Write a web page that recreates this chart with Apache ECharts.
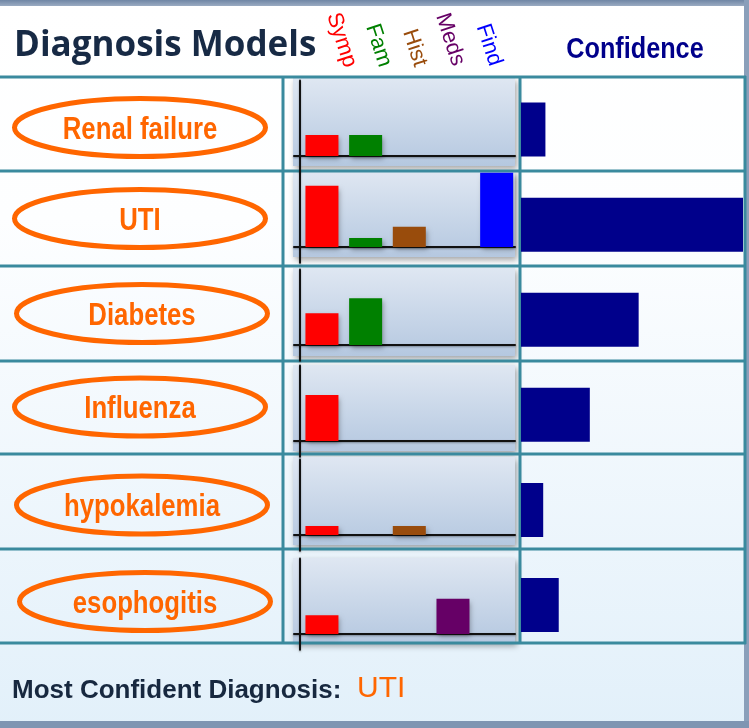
<!DOCTYPE html>
<html><head><meta charset="utf-8">
<script src="https://cdn.jsdelivr.net/npm/echarts@6/dist/echarts.min.js"></script>
<style>html,body{margin:0;padding:0;background:#fff}#c{width:749px;height:728px}</style>
</head><body><div id="c"></div>
<script>
// ---- data ----
const diagnoses = ['Renal failure', 'UTI', 'Diabetes', 'Influenza', 'hypokalemia', 'esophogitis'];
const sources = ['Symp', 'Fam', 'Hist', 'Meds', 'Find'];
const symp = [0.29, 0.85, 0.44, 0.64, 0.125, 0.26];
const fam  = [0.29, 0.125, 0.65, 0, 0, 0];
const hist = [0, 0.28, 0, 0, 0.125, 0];
const meds = [0, 0, 0, 0, 0, 0.49];
const find = [0, 1.03, 0, 0, 0, 0];
const confidence = [11, 100, 53, 31, 10, 17];

// ---- layout / style ----
const sourceColors = ['#ff0000', '#008000', '#994c0c', '#660066', '#0000ff'];
const baseY = [156, 247, 345, 441, 535, 634];
const panelTop = [78, 171, 268, 365, 457, 558];
const panelBot = [166, 257, 356, 451, 545, 643];
const ellCx = [140, 140, 142, 140, 142, 145];
const ellCy = [127.5, 218.5, 313.5, 407, 505, 601.5];
const legendPos = [[341.5, 40], [378.5, 45.5], [414.5, 48], [450, 39.5], [489, 45]];
const rowLines = [77, 171, 266, 361, 454, 549, 643];
const UNIT = 72;
const LINE = '#3a8a9e';

const grids = [], xAxes = [], yAxes = [], series = [];
const axisStyle = {color: '#111', width: 2, shadowColor: 'rgba(0,0,0,0.35)', shadowBlur: 2, shadowOffsetY: 1};
for (let r = 0; r < 6; r++) {
  grids.push({left: 294, width: 221, top: baseY[r] - 1.05 * UNIT, height: 1.27 * UNIT});
  xAxes.push({type: 'value', gridIndex: r, min: -0.14, max: 4.92,
    axisLine: {show: true, onZero: true, lineStyle: axisStyle},
    axisTick: {show: false}, axisLabel: {show: false}, splitLine: {show: false}});
  yAxes.push({type: 'value', gridIndex: r, min: -0.22, max: 1.05,
    axisLine: {show: true, onZero: true, lineStyle: axisStyle},
    axisTick: {show: false}, axisLabel: {show: false}, splitLine: {show: false}});
  const vals = [symp[r], fam[r], hist[r], meds[r], find[r]];
  const data = [];
  vals.forEach((v, i) => { if (v > 0) data.push({value: [i + 0.5, v], name: sources[i], itemStyle: {color: sourceColors[i]}}); });
  series.push({type: 'bar', xAxisIndex: r, yAxisIndex: r, barWidth: 33, data: data, silent: true,
    itemStyle: {shadowColor: 'rgba(0,0,0,0.3)', shadowBlur: 5, shadowOffsetX: 2, shadowOffsetY: 3}});
}
grids.push({left: 521, width: 222, top: 82, height: 570.6});
xAxes.push({type: 'value', gridIndex: 6, min: 0, max: 100, show: false});
yAxes.push({type: 'category', gridIndex: 6, data: diagnoses, inverse: true, show: false});
series.push({type: 'bar', xAxisIndex: 6, yAxisIndex: 6, data: confidence, barWidth: 54, silent: true,
  itemStyle: {color: '#00008b'}});

const g = [];
// background card
g.push({type: 'rect', z: -20, shape: {x: 0, y: 0, width: 749, height: 728},
  style: {fill: new echarts.graphic.LinearGradient(0, 0, 0, 1, [
    {offset: 0, color: '#ffffff'}, {offset: 0.3, color: '#fdfeff'}, {offset: 1, color: '#e2f0fa'}])}});
// frame bands
g.push({type: 'rect', z: -19, shape: {x: 0, y: 0, width: 749, height: 6},
  style: {fill: new echarts.graphic.LinearGradient(0, 0, 0, 1, [{offset: 0, color: '#6f86a5'}, {offset: 1, color: '#9aabc2'}])}});
g.push({type: 'rect', z: -19, shape: {x: 744, y: 0, width: 5, height: 728}, style: {fill: '#8a9fba'}});
g.push({type: 'rect', z: -19, shape: {x: 0, y: 721, width: 749, height: 7}, style: {fill: '#7f95b2'}});
// panels
for (let r = 0; r < 6; r++) {
  g.push({type: 'rect', z: -10, shape: {x: 293, y: panelTop[r], width: 222, height: panelBot[r] - panelTop[r]},
    style: {fill: new echarts.graphic.LinearGradient(0, 0, 0, 1, [{offset: 0, color: '#dfe7f2'}, {offset: 1, color: '#b5c8e0'}]),
      shadowColor: 'rgba(0,0,0,0.35)', shadowBlur: 6, shadowOffsetX: 2, shadowOffsetY: 3}});
}
// table lines
rowLines.forEach(y => g.push({type: 'line', z: -5, shape: {x1: 0, y1: y, x2: 746, y2: y}, style: {stroke: LINE, lineWidth: 3}}));
[283, 520, 745].forEach(x => g.push({type: 'line', z: -5, shape: {x1: x, y1: 76, x2: x, y2: 644}, style: {stroke: LINE, lineWidth: 3}}));
// ellipses with names
for (let r = 0; r < 6; r++) {
  g.push({type: 'ellipse', z: 10, shape: {cx: ellCx[r], cy: ellCy[r], rx: 125.5, ry: 29},
    style: {fill: 'transparent', stroke: '#ff6600', lineWidth: 5}});
  g.push({type: 'text', z: 11, x: ellCx[r], y: ellCy[r] + 2.5, scaleX: 0.83,
    style: {text: diagnoses[r], fontSize: 31, fontWeight: 'bold', fontFamily: 'Liberation Sans, Arial, sans-serif',
      fill: '#ff6600', align: 'center', verticalAlign: 'middle'}});
}
// header
g.push({type: 'text', z: 11, x: 14, y: 46,
  style: {text: 'Diagnosis Models', fontSize: 35, fontWeight: 'bold', fontFamily: 'Open Sans, sans-serif',
    fill: '#172a45', align: 'left', verticalAlign: 'middle'}});
g.push({type: 'text', z: 11, x: 635, y: 50, scaleX: 0.87,
  style: {text: 'Confidence', fontSize: 29, fontWeight: 'bold', fontFamily: 'Liberation Sans, Arial, sans-serif',
    fill: '#00008b', align: 'center', verticalAlign: 'middle'}});
sources.forEach((s, i) => g.push({type: 'text', z: 11, x: legendPos[i][0], y: legendPos[i][1], rotation: -72 * Math.PI / 180,
  style: {text: s, fontSize: 22, fontFamily: 'Liberation Sans, Arial, sans-serif', fill: sourceColors[i],
    align: 'center', verticalAlign: 'middle'}}));
// footer
let best = 0;
confidence.forEach((v, i) => { if (v > confidence[best]) best = i; });
g.push({type: 'text', z: 11, x: 12, y: 691,
  style: {text: 'Most Confident Diagnosis:', fontSize: 26, fontWeight: 'bold', fontFamily: 'Liberation Sans, Arial, sans-serif',
    fill: '#17283f', align: 'left', verticalAlign: 'middle'}});
g.push({type: 'text', z: 11, x: 357, y: 689,
  style: {text: diagnoses[best], fontSize: 30, fontFamily: 'Liberation Sans, Arial, sans-serif',
    fill: '#ff6600', align: 'left', verticalAlign: 'middle'}});

const chart = echarts.init(document.getElementById('c'), null, {renderer: 'canvas'});
chart.setOption({
  animation: false,
  grid: grids, xAxis: xAxes, yAxis: yAxes, series: series,
  graphic: {elements: g}
});
</script></body></html>
